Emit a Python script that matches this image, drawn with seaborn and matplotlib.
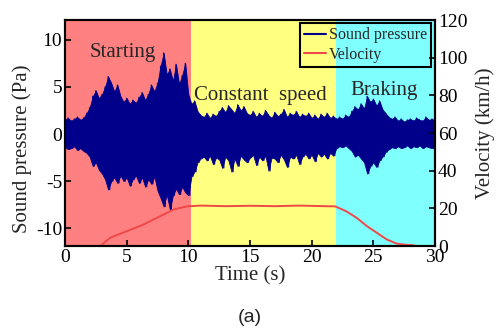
import numpy as np
import pandas as pd
import matplotlib
matplotlib.use("Agg")
import matplotlib.pyplot as plt
import seaborn as sns

# ---------------- data ----------------
# sound pressure envelope, sampled every 0.25 s from 0 to 30 s
sp_time = [i * 0.25 for i in range(121)]
sp_upper = [
    1.5, 1.7, 1.4, 1.6, 1.8, 1.5, 1.7, 2.2,          # 0 - 1.75
    2.8, 4.0, 4.6, 3.8, 4.2, 5.0, 6.1, 5.4,          # 2 - 3.75
    4.5, 5.2, 4.0, 3.4, 3.8, 3.2, 3.6, 3.3,          # 4 - 5.75
    3.9, 4.4, 3.6, 4.2, 5.2, 4.5, 5.4, 7.2,          # 6 - 7.75
    8.6, 6.3, 6.9, 5.6, 7.4, 5.3, 6.2, 7.5,          # 8 - 9.75
    4.2, 3.2, 3.5, 2.4, 2.0, 1.8, 2.2, 1.7,          # 10 - 11.75
    2.1, 1.9, 2.4, 2.8, 2.3, 3.0, 2.6, 2.2,          # 12 - 13.75
    3.1, 2.5, 2.9, 2.2, 2.0, 2.4, 1.8, 2.2,          # 14 - 15.75
    1.9, 2.5, 2.0, 1.7, 2.3, 1.9, 2.1, 2.6,          # 16 - 17.75
    1.8, 2.2, 2.0, 2.4, 1.8, 2.1, 1.9, 2.2,          # 18 - 19.75
    1.7, 2.0, 1.6, 2.1, 1.8, 2.2, 1.7, 1.9,          # 20 - 21.75
    1.6, 1.8, 1.6, 2.0, 1.8, 2.4, 2.9, 2.6,          # 22 - 23.75
    3.2, 2.7, 4.0, 3.4, 3.7, 3.0, 3.5, 2.6,          # 24 - 25.75
    2.2, 1.8, 1.6, 1.8, 1.4, 1.6, 1.3, 1.5,          # 26 - 27.75
    1.6, 1.4, 1.7, 1.5, 1.4, 1.8, 1.5, 1.6,          # 28 - 29.75
    1.5,                                             # 30
]
sp_lower = [
    -1.4, -1.6, -1.5, -1.3, -1.7, -1.5, -1.8, -2.0,
    -2.4, -3.4, -3.0, -3.8, -4.2, -4.8, -5.9, -5.0,
    -4.6, -5.2, -4.4, -5.0, -4.6, -5.5, -4.8, -4.4,
    -5.2, -4.6, -5.6, -4.8, -5.3, -4.5, -6.0, -6.8,
    -7.7, -6.4, -8.0, -6.5, -5.8, -6.4, -5.6, -6.2,
    -6.5, -4.5, -4.0, -3.0, -2.6, -2.4, -2.8, -2.3,
    -3.2, -2.5, -2.7, -3.6, -2.4, -2.8, -4.0, -2.6,
    -3.4, -2.3, -2.7, -3.0, -2.5, -2.2, -3.3, -2.4,
    -2.8, -2.3, -3.9, -2.5, -2.6, -3.0, -2.2, -2.7,
    -3.5, -2.4, -2.6, -2.2, -3.2, -2.4, -2.1, -2.6,
    -2.2, -2.9, -2.0, -2.4, -2.1, -2.6, -2.0, -2.3,
    -1.5, -1.3, -1.4, -1.2, -1.5, -1.8, -2.4, -2.2,
    -2.6, -3.0, -4.2, -3.4, -3.0, -3.5, -2.8, -2.4,
    -1.9, -1.6, -1.4, -1.5, -1.3, -1.5, -1.4, -1.2,
    -1.5, -1.3, -1.4, -1.2, -1.5, -1.3, -1.4, -1.5,
    -1.3,
]

vel_time = [2.9, 3.0, 3.65, 5.0, 6.35, 7.7, 8.8, 9.9, 11.0, 13.0, 15.0, 17.0,
            19.0, 21.0, 21.9, 22.8, 23.65, 24.5, 25.3, 26.1, 26.9, 27.5, 28.3]
vel_kmh = [0.0, 0.8, 4.4, 7.9, 11.4, 15.8, 19.4, 21.1, 21.5, 21.2, 21.4, 21.2,
           21.5, 21.2, 21.1, 18.5, 15.0, 10.5, 7.0, 3.5, 1.3, 0.8, 0.4]

phase_names = ["Starting", "Constant  speed", "Braking"]
phase_edges = [0, 10.2, 22.0, 30]
phase_colors = ["#FF8080", "#FFFF80", "#80FFFF"]

x_ticks = [0, 5, 10, 15, 20, 25, 30]
left_ticks = [-10, -5, 0, 5, 10]
right_ticks = [0, 20, 40, 60, 80, 100, 120]

# ---------------- drawing ----------------
sns.set_theme(style="ticks")
plt.rcParams["font.family"] = ["Liberation Serif", "DejaVu Serif"]
plt.rcParams["axes.unicode_minus"] = False

fig = plt.figure(figsize=(5.0, 3.29), dpi=100)
ax = fig.add_axes([0.13, 0.252, 0.74, 0.687])

for i, c in enumerate(phase_colors):
    ax.axvspan(phase_edges[i], phase_edges[i + 1], color=c, lw=0, zorder=0)

# zig-zag sound pressure trace between the read envelopes
zig_t, zig_p = [], []
for t, u, l in zip(sp_time, sp_upper, sp_lower):
    zig_t += [t, t + 0.125]
    zig_p += [u, l]
sp_df = pd.DataFrame({"t": zig_t, "p": zig_p})
navy = "#00008B"
ax.fill_between(sp_time, sp_lower, sp_upper, color=navy, lw=0.6, zorder=2)
sns.lineplot(data=sp_df, x="t", y="p", ax=ax, color=navy, lw=0.9,
             sort=False, estimator=None, zorder=3, label="Sound pressure")

ax.set_xlim(0, 30)
ax.set_ylim(-11.9, 12.1)
ax.set_xticks(x_ticks)
ax.set_yticks(left_ticks)
ax.set_xlabel("Time (s)", fontsize=15, labelpad=0)
ax.set_ylabel("Sound pressure (Pa)", fontsize=15)
ax.yaxis.set_label_coords(-0.09, 0.43)

ax2 = ax.twinx()
vel_df = pd.DataFrame({"t": vel_time, "v": vel_kmh})
sns.lineplot(data=vel_df, x="t", y="v", ax=ax2, color="#F04848", lw=1.4,
             label="Velocity")
ax2.set_ylim(0, 120)
ax2.set_yticks(right_ticks)
ax2.set_ylabel("Velocity (km/h)", fontsize=15)
ax2.yaxis.set_label_coords(1.11, 0.5)
ax2.set_xlabel("")

for a in (ax, ax2):
    a.tick_params(direction="in", length=4, width=1.2, labelsize=14, colors="black", pad=2)
    for s in a.spines.values():
        s.set_linewidth(1.5)
        s.set_color("black")

# phase labels
ax.text(2.0, 8.7, phase_names[0], fontsize=15, va="center", ha="left", zorder=5)
ax.text(10.5, 4.1, phase_names[1], fontsize=15, va="center", ha="left", zorder=5)
ax.text(23.1, 4.6, phase_names[2], fontsize=15, va="center", ha="left", zorder=5)

# legend
if ax.get_legend():
    ax.get_legend().remove()
h1, l1 = ax.get_legend_handles_labels()
h2, l2 = ax2.get_legend_handles_labels()
if ax2.get_legend():
    ax2.get_legend().remove()
leg = ax2.legend(h1 + h2, l1 + l2, loc="upper right", bbox_to_anchor=(0.99, 0.985),
                 fontsize=11.5, frameon=True, fancybox=False, framealpha=1,
                 facecolor="none", edgecolor="black", handlelength=1.4,
                 handletextpad=0.2, borderpad=0.25, labelspacing=0.2,
                 borderaxespad=0.0)
leg.get_frame().set_linewidth(1.5)
for line in leg.get_lines():
    line.set_linewidth(1.5)

fig.text(0.5, 0.036, "(a)", fontsize=14, ha="center", va="center",
         family=["Liberation Sans", "DejaVu Sans"])

fig.savefig("out.png", dpi=100)
